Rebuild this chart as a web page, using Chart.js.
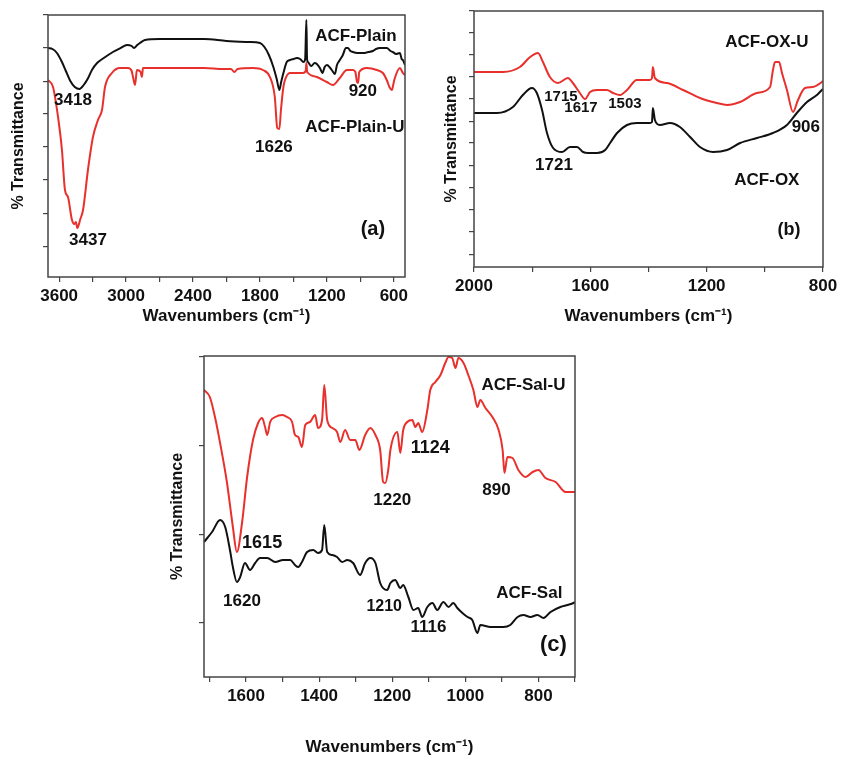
<!DOCTYPE html>
<html>
<head>
<meta charset="utf-8">
<script src="https://cdn.jsdelivr.net/npm/chart.js@4"></script>
<style>
body { margin: 0; background: #fff; width: 846px; height: 759px; position: relative; overflow: hidden; }
canvas { position: absolute; }
</style>
</head>
<body>
<canvas id="chartA" width="420" height="335" style="left:0;top:0"></canvas>
<canvas id="chartB" width="426" height="335" style="left:420px;top:0"></canvas>
<canvas id="chartC" width="430" height="419" style="left:160px;top:340px"></canvas>
<script>
// spectra: [wavenumber, transmittance (arbitrary units)]
var acfPlain = [[3700,229],[3660,228],[3620,224],[3575,215],[3540,206],[3500,196],[3460,190],[3418,188],[3380,192],[3340,199],[3306,207],[3260,214],[3200,219],[3118,225],[3050,229],[2992,232],[2950,231],[2930,229],[2900,232],[2876,234],[2830,237],[2700,238],[2500,238],[2300,238],[2100,236],[1900,235],[1800,234],[1760,230],[1720,222],[1680,210],[1650,198],[1626,187],[1610,195],[1590,204],[1560,215],[1530,217],[1500,218],[1470,219],[1440,218],[1410,215],[1395,218],[1384,257],[1378,218],[1370,215],[1340,211],[1310,214],[1290,213],[1263,209],[1240,204],[1220,210],[1200,212],[1170,209],[1150,206],[1128,203],[1110,212],[1084,217],[1057,222],[1030,229],[1012,229],[990,226],[967,225],[930,224],[900,224],[860,224],[830,225],[788,226],[760,228],[725,229],[690,229],[663,229],[630,226],[609,225],[580,223],[546,224],[530,218],[519,217],[500,212]];
var acfPlainU = [[3700,197],[3655,190],[3610,160],[3575,127],[3548,87],[3521,80],[3485,57],[3465,53],[3450,55],[3437,49],[3410,58],[3386,67],[3342,107],[3297,140],[3252,157],[3216,167],[3189,190],[3127,204],[3055,209],[2983,209],[2950,206],[2938,200],[2920,192],[2903,207],[2870,205],[2858,200],[2849,209],[2600,209],[2300,209],[2132,208],[2060,208],[2030,205],[2000,208],[1863,209],[1774,207],[1711,200],[1667,180],[1645,149],[1626,148],[1612,167],[1590,190],[1576,197],[1532,204],[1469,204],[1415,204],[1390,206],[1384,214],[1378,206],[1370,204],[1290,200],[1200,195],[1146,192],[1084,199],[1021,207],[967,207],[945,205],[930,195],[920,194],[910,205],[842,209],[752,207],[698,204],[660,196],[640,190],[618,187],[600,195],[591,199],[546,209],[519,204],[500,202]];

var acfOx = [[2000,154],[1921,154],[1866,160],[1832,172],[1801,179],[1784,174],[1766,157],[1749,134],[1728,119],[1697,115],[1670,120],[1646,120],[1625,115],[1608,114],[1577,114],[1549,117],[1532,124],[1508,134],[1474,142],[1440,144],[1395,144],[1388,145],[1385,159],[1378,147],[1361,142],[1326,144],[1292,140],[1257,130],[1223,120],[1178,115],[1130,117],[1085,124],[1027,129],[972,134],[924,142],[890,154],[855,165],[821,172],[804,177],[800,178]];
var acfOxU = [[2000,195],[1900,195],[1842,200],[1807,210],[1780,214],[1763,205],[1739,190],[1711,184],[1677,189],[1660,184],[1636,174],[1618,168],[1601,175],[1577,177],[1543,177],[1522,174],[1498,172],[1474,177],[1440,187],[1395,187],[1388,189],[1385,200],[1378,189],[1336,184],[1281,177],[1223,169],[1165,164],[1130,162],[1085,165],[1027,174],[982,180],[972,197],[965,205],[951,205],[941,194],[924,177],[903,155],[886,167],[862,179],[835,180],[804,185],[800,186]];

var acfSalU = [[1715,287],[1699,280],[1685,260],[1671,234],[1652,194],[1636,150],[1625,125],[1611,154],[1597,200],[1581,237],[1567,254],[1556,259],[1548,250],[1542,242],[1534,255],[1520,260],[1501,262],[1488,260],[1474,255],[1466,242],[1457,240],[1447,230],[1438,252],[1425,255],[1411,262],[1403,249],[1392,257],[1386,292],[1378,257],[1364,249],[1351,245],[1342,235],[1329,247],[1315,237],[1301,237],[1290,227],[1274,242],[1260,249],[1246,242],[1233,227],[1225,195],[1219,194],[1211,207],[1205,227],[1186,245],[1178,224],[1170,247],[1159,255],[1145,257],[1137,250],[1129,254],[1118,245],[1104,267],[1096,287],[1082,295],[1068,302],[1055,314],[1046,320],[1036,319],[1027,309],[1019,319],[1005,314],[992,302],[978,287],[967,270],[959,277],[945,269],[926,260],[909,247],[898,227],[893,204],[885,220],[871,219],[855,207],[835,200],[816,205],[800,207],[781,199],[753,195],[726,185],[704,185],[700,185]];
var acfSal = [[1715,135],[1693,145],[1671,157],[1657,150],[1644,127],[1636,110],[1625,95],[1616,100],[1603,114],[1589,107],[1575,114],[1562,119],[1542,119],[1520,115],[1499,117],[1479,117],[1466,112],[1457,110],[1447,115],[1433,125],[1416,127],[1403,124],[1392,127],[1386,152],[1378,125],[1364,122],[1351,120],[1337,115],[1323,117],[1307,114],[1288,102],[1274,114],[1260,119],[1246,114],[1233,94],[1214,87],[1205,94],[1192,97],[1178,89],[1170,92],[1156,80],[1142,67],[1129,69],[1118,60],[1104,70],[1090,74],[1077,67],[1060,75],[1046,70],[1033,74],[1022,69],[1008,64],[994,60],[981,57],[967,44],[959,52],[931,50],[896,50],[877,52],[857,60],[841,62],[822,60],[803,62],[786,59],[767,65],[740,70],[720,72],[704,74],[700,75]];

// axis ticks
var xTicksA = [3600,3300,3000,2700,2400,2100,1800,1500,1200,900,600];
var xLabelsA = [3600,3000,2400,1800,1200,600];
var yTicksA = [30,63,97,130,163,195,229,262];
var xTicksB = [2000,1800,1600,1400,1200,1000,800];
var xLabelsB = [2000,1600,1200,800];
var yTicksB = [12,35,57,79,101,124,145,168,190,212,234,256];
var xTicksC = [1700,1600,1500,1400,1300,1200,1100,1000,900,800,700];
var xLabelsC = [1600,1400,1200,1000,800];
var yTicksC = [54,142,231,320];

// peak labels and curve names (placed in data coordinates)
var notesA = [
  {t: 'ACF-Plain', x: 940, y: 241}, {t: 'ACF-Plain-U', x: 949, y: 150},
  {t: '3418', x: 3476, y: 177}, {t: '3437', x: 3342, y: 37},
  {t: '1626', x: 1675, y: 130}, {t: '920', x: 878, y: 186}, {t: '(a)', x: 788, y: 48, s: 20}
];
var notesB = [
  {t: 'ACF-OX-U', x: 993, y: 225}, {t: '1715', x: 1701, y: 170, s: 15},
  {t: '1617', x: 1632, y: 159, s: 15}, {t: '1503', x: 1481, y: 163, s: 15},
  {t: '906', x: 859, y: 140}, {t: '1721', x: 1725, y: 102},
  {t: 'ACF-OX', x: 993, y: 87}, {t: '(b)', x: 917, y: 37, s: 18}
];
var notesC = [
  {t: 'ACF-Sal-U', x: 841, y: 292}, {t: '1615', x: 1556, y: 134, s: 18},
  {t: '1620', x: 1611, y: 76}, {t: '1220', x: 1200, y: 177},
  {t: '1124', x: 1096, y: 229, s: 18}, {t: '890', x: 915, y: 187},
  {t: '1210', x: 1222, y: 70, s: 16}, {t: '1116', x: 1101, y: 50},
  {t: 'ACF-Sal', x: 825, y: 84}, {t: '(c)', x: 759, y: 32, s: 22}
];

var FONT = '"Liberation Sans", Arial, sans-serif';
var RED = '#e8302c';
var BLACK = '#111';

function drawPanel(id, p) {
  var datasets = p.series.map(function (s) {
    return {
      data: s.points.map(function (d) { return {x: d[0], y: d[1]}; }),
      borderColor: s.color,
      borderWidth: 2,
      pointRadius: 0,
      cubicInterpolationMode: 'monotone',
      fill: false
    };
  });

  // box round the plot + text labels
  var extras = {
    id: 'extras',
    afterDraw: function (chart) {
      var ctx = chart.ctx, a = chart.chartArea;
      ctx.save();
      ctx.strokeStyle = '#444';
      ctx.lineWidth = 1.5;
      ctx.strokeRect(a.left, a.top, a.right - a.left, a.bottom - a.top);
      ctx.fillStyle = BLACK;
      ctx.textAlign = 'center';
      ctx.textBaseline = 'middle';
      p.notes.forEach(function (n) {
        ctx.font = 'bold ' + (n.s || 17) + 'px ' + FONT;
        ctx.fillText(n.t, chart.scales.x.getPixelForValue(n.x), chart.scales.y.getPixelForValue(n.y));
      });
      ctx.restore();
    }
  };

  return new Chart(document.getElementById(id), {
    type: 'line',
    data: {datasets: datasets},
    options: {
      responsive: false,
      animation: false,
      events: [],
      layout: {padding: {top: p.padTop, right: p.padRight, left: 0, bottom: 0}},
      plugins: {legend: {display: false}, tooltip: {enabled: false}},
      scales: {
        x: {
          type: 'linear',
          reverse: true,
          min: p.xMin,
          max: p.xMax,
          afterBuildTicks: function (s) { s.ticks = p.xTicks.map(function (v) { return {value: v}; }); },
          afterFit: function (s) { s.height = p.xAxisH; s.paddingLeft = 0; s.paddingRight = 0; },
          ticks: {
            autoSkip: false, maxRotation: 0, padding: 4, color: BLACK,
            font: {family: FONT, size: 17, weight: 'bold'},
            callback: function (v) { return p.xLabels.indexOf(v) >= 0 ? String(v) : ''; }
          },
          grid: {drawOnChartArea: false, tickLength: 5, color: '#444', lineWidth: 1.2},
          border: {display: false},
          title: {
            display: true, text: 'Wavenumbers (cm\u207B\u00B9)', color: BLACK,
            font: {family: FONT, size: 17, weight: 'bold'},
            padding: {top: 0, bottom: p.xTitlePad}
          }
        },
        y: {
          min: 0,
          max: p.yMax,
          afterBuildTicks: function (s) { s.ticks = p.yTicks.map(function (v) { return {value: v}; }); },
          afterFit: function (s) { s.width = p.yAxisW; s.paddingTop = 0; s.paddingBottom = 0; },
          ticks: {display: false},
          grid: {drawOnChartArea: false, tickLength: 5, color: '#444', lineWidth: 1.2},
          border: {display: false},
          title: {
            display: true, text: '% Transmittance', color: BLACK,
            font: {family: FONT, size: 16, weight: 'bold'},
            padding: {top: p.yTitlePad, bottom: 0}
          }
        }
      }
    },
    plugins: [extras]
  });
}

drawPanel('chartA', {
  series: [{points: acfPlain, color: BLACK}, {points: acfPlainU, color: RED}],
  notes: notesA, xMin: 500, xMax: 3700, xTicks: xTicksA, xLabels: xLabelsA,
  yMax: 262, yTicks: yTicksA, padTop: 15, padRight: 15,
  xAxisH: 58, xTitlePad: 8, yAxisW: 48, yTitlePad: 9
});

drawPanel('chartB', {
  series: [{points: acfOx, color: BLACK}, {points: acfOxU, color: RED}],
  notes: notesB, xMin: 800, xMax: 2000, xTicks: xTicksB, xLabels: xLabelsB,
  yMax: 256, yTicks: yTicksB, padTop: 11, padRight: 23,
  xAxisH: 68, xTitlePad: 8, yAxisW: 54, yTitlePad: 22
});

drawPanel('chartC', {
  series: [{points: acfSal, color: BLACK}, {points: acfSalU, color: RED}],
  notes: notesC, xMin: 700, xMax: 1715, xTicks: xTicksC, xLabels: xLabelsC,
  yMax: 321, yTicks: yTicksC, padTop: 16, padRight: 15,
  xAxisH: 82, xTitlePad: 1, yAxisW: 44, yTitlePad: 8
});
</script>
</body>
</html>
